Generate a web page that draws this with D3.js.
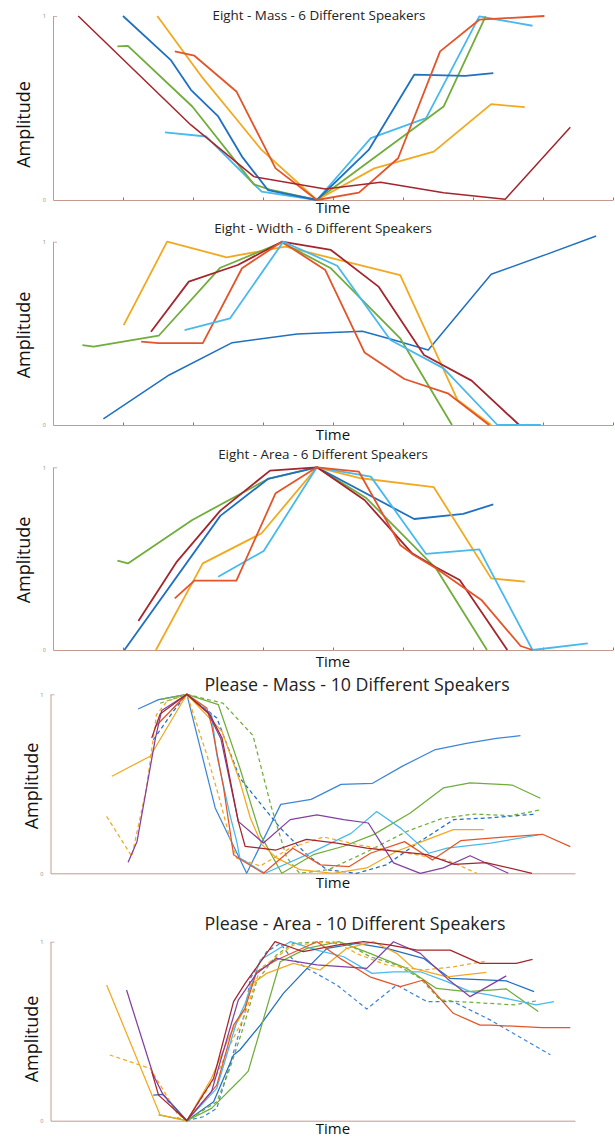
<!DOCTYPE html>
<html>
<head>
<meta charset="utf-8">
<script src="https://cdn.jsdelivr.net/npm/d3@7"></script>
<style>
  html, body { margin: 0; padding: 0; background: #fff; }
  svg { display: block; }
</style>
</head>
<body>
<svg id="chart" width="615" height="1138"></svg>
<script>
// ---------------- DATA ----------------
const titles = [
  "Eight - Mass - 6 Different Speakers",
  "Eight - Width - 6 Different Speakers",
  "Eight - Area - 6 Different Speakers",
  "Please - Mass - 10 Different Speakers",
  "Please - Area - 10 Different Speakers"
];
const xLabel = "Time";
const yLabel = "Amplitude";
const yTickValues = [0, 1];
const xTickValues = [1, 2, 3, 4, 5, 6, 7, 8];

// Eight - Mass  [time, amplitude]
const massDarkRed = [[0.36,1.0],[1.97,0.408],[2.87,0.127],[3.89,0.06],[4.68,0.096],[5.58,0.04],[6.46,0.004],[7.39,0.396]];
const massBlue    = [[1.0,1.0],[1.68,0.762],[1.97,0.599],[2.36,0.454],[2.70,0.236],[3.07,0.054],[3.77,0.0],[4.51,0.272],[5.16,0.681],[5.89,0.675],[6.29,0.69]];
const massYellow  = [[1.49,1.0],[2.14,0.662],[2.59,0.454],[2.98,0.272],[3.77,0.0],[4.59,0.172],[5.44,0.263],[6.26,0.521],[6.74,0.505]];
const massOrange  = [[1.74,0.808],[2.02,0.784],[2.62,0.59],[3.18,0.172],[3.77,0.0],[4.37,0.04],[4.93,0.227],[5.53,0.808],[6.09,0.98],[7.02,1.0]];
const massGreen   = [[0.92,0.835],[1.07,0.838],[1.99,0.508],[2.87,0.085],[3.10,0.056],[3.77,0.0],[5.58,0.508],[6.18,0.998]];
const massCyan    = [[1.60,0.368],[2.19,0.345],[2.98,0.045],[3.77,0.0],[4.54,0.336],[5.33,0.445],[6.09,0.998],[6.85,0.947]];

// Eight - Width
const widthDarkRed = [[1.40,0.509],[1.94,0.782],[2.64,0.873],[3.27,1.0],[3.97,0.955],[4.65,0.755],[5.30,0.382],[5.98,0.242],[6.66,0.0]];
const widthBlue    = [[0.72,0.033],[1.66,0.273],[2.56,0.449],[3.49,0.496],[4.42,0.511],[4.82,0.469],[5.36,0.409],[6.26,0.822],[7.05,0.931],[7.76,1.031]];
const widthYellow  = [[1.01,0.545],[1.63,1.0],[2.48,0.915],[3.32,0.973],[4.96,0.818],[5.78,0.136],[6.26,0.0]];
const widthOrange  = [[1.26,0.455],[1.51,0.447],[2.14,0.447],[2.70,0.855],[3.27,1.0],[3.89,0.845],[4.45,0.396],[5.02,0.251],[5.64,0.173],[6.23,0.0]];
const widthGreen   = [[0.42,0.436],[0.58,0.427],[1.51,0.487],[2.39,0.858],[3.27,0.996],[3.97,0.855],[4.96,0.473],[5.70,0.0]];
const widthCyan    = [[1.88,0.518],[2.53,0.582],[3.29,1.0],[4.06,0.869],[4.82,0.464],[5.58,0.309],[6.35,0.0],[6.97,0.0]];

// Eight - Area
const areaDarkRed = [[1.22,0.159],[1.77,0.484],[2.39,0.763],[3.10,0.982],[3.77,1.0],[4.45,0.821],[5.13,0.529],[5.47,0.453],[5.81,0.383],[6.49,0.0]];
const areaBlue    = [[1.02,0.0],[2.39,0.734],[3.07,0.936],[3.77,1.0],[5.16,0.717],[5.86,0.745],[6.29,0.797]];
const areaYellow  = [[1.47,0.0],[2.14,0.474],[2.98,0.639],[3.77,1.0],[4.40,0.94],[5.44,0.891],[6.26,0.392],[6.74,0.374]];
const areaOrange  = [[1.74,0.283],[2.02,0.38],[2.62,0.38],[3.18,0.858],[3.77,1.0],[4.37,0.976],[4.96,0.575],[5.13,0.526],[5.47,0.447],[6.12,0.274],[6.68,0.022],[6.85,0.0]];
const areaGreen   = [[0.92,0.489],[1.07,0.474],[1.99,0.712],[3.07,0.936],[3.77,1.0],[4.48,0.83],[5.47,0.447],[6.20,0.0]];
const areaCyan    = [[2.36,0.401],[3.01,0.542],[3.77,1.0],[4.54,0.949],[5.33,0.526],[6.09,0.551],[6.85,0.0],[7.64,0.036]];

// Please - Mass
const pmBlue       = [[1.67,0.918],[2.06,0.97],[2.60,1.0],[3.14,0.365],[3.74,0.0],[4.39,0.385],[4.97,0.413],[5.54,0.497],[6.14,0.503],[6.72,0.6],[7.32,0.689],[7.93,0.726],[8.50,0.754],[8.96,0.769]];
const pmBlueDash   = [[1.96,0.746],[2.34,0.905],[2.60,1.0],[3.17,0.868],[3.61,0.532],[4.38,0.253],[4.89,0.104],[5.27,0.02],[5.84,0.0],[6.41,0.048],[7.05,0.179],[7.69,0.30],[8.39,0.31],[9.22,0.33]];
const pmGreen      = [[2.11,0.972],[2.60,1.0],[3.20,0.942],[3.61,0.588],[4.00,0.216],[4.41,0.0],[5.01,0.104],[5.59,0.151],[6.16,0.216],[6.86,0.337],[7.49,0.477],[8.00,0.505],[8.80,0.493],[9.34,0.419]];
const pmGreenDash  = [[2.09,0.95],[2.60,1.0],[3.29,0.95],[3.86,0.77],[4.20,0.38],[4.50,0.09],[4.75,0.0],[5.30,0.02],[6.03,0.12],[6.80,0.235],[7.47,0.307],[8.08,0.331],[8.77,0.322],[9.34,0.354]];
const pmYellow     = [[1.17,0.542],[1.90,0.654],[2.60,1.0],[3.27,0.793],[3.61,0.514],[3.81,0.309],[4.03,0.16],[4.31,0.086],[4.76,0.02],[5.39,0.0],[6.03,0.03],[6.60,0.123],[7.18,0.188],[7.68,0.244],[8.26,0.244]];
const pmYellowDash = [[1.07,0.318],[1.55,0.095],[1.83,0.477],[2.02,0.886],[2.22,0.961],[2.60,1.0],[2.72,0.895],[2.98,0.663],[3.20,0.439],[3.42,0.197],[3.55,0.085],[4.00,0.041],[4.57,0.141],[5.20,0.203],[5.90,0.158],[6.67,0.119],[7.56,0.074],[8.13,0.0]];
const pmOrange     = [[2.00,0.82],[2.60,1.0],[2.98,0.923],[3.07,0.83],[3.30,0.477],[3.49,0.104],[3.68,0.067],[4.06,0.0],[4.62,0.14],[5.15,0.047],[5.69,0.037],[6.10,0.112],[6.75,0.177],[7.28,0.074],[7.82,0.182],[8.39,0.197],[9.38,0.218],[9.91,0.149]];
const pmCyan       = [[2.31,0.914],[2.60,1.0],[3.07,0.886],[3.17,0.663],[3.42,0.327],[3.55,0.179],[3.61,0.085],[4.09,0.0],[4.89,0.104],[5.73,0.223],[6.22,0.345],[6.68,0.251],[7.21,0.112],[7.56,0.141],[8.39,0.169],[9.30,0.214]];
const pmDarkRed    = [[1.93,0.756],[2.09,0.89],[2.60,1.0],[3.04,0.886],[3.27,0.756],[3.58,0.29],[3.71,0.151],[4.30,0.13],[4.88,0.19],[5.46,0.169],[6.03,0.141],[6.60,0.123],[7.18,0.104],[7.70,0.05],[8.30,0.06],[9.18,0.0]];
const pmPurple     = [[1.48,0.062],[1.65,0.178],[2.00,0.754],[2.12,0.91],[2.60,1.0],[3.00,0.9],[3.25,0.75],[3.58,0.29],[4.06,0.169],[4.57,0.30],[5.08,0.327],[5.59,0.30],[6.06,0.281],[6.54,0.058],[7.05,0.0],[7.49,0.03],[8.00,0.098],[8.73,0.0]];

// Please - Area
const paBlue       = [[1.96,0.143],[2.15,0.147],[2.60,0.0],[3.11,0.106],[3.49,0.367],[3.61,0.395],[4.00,0.534],[4.44,0.711],[4.89,0.851],[5.27,0.963],[5.84,0.991],[6.41,0.963],[7.11,0.907],[7.62,0.795],[8.39,0.786],[8.69,0.781],[9.22,0.721]];
const paBlueDash   = [[2.22,0.115],[2.60,0.0],[2.91,0.022],[3.17,0.069],[3.42,0.311],[3.71,0.609],[3.81,0.795],[4.12,0.944],[4.38,0.99],[4.60,0.907],[4.89,0.851],[5.46,0.758],[6.03,0.624],[6.60,0.758],[7.18,0.665],[7.68,0.665],[8.39,0.562],[9.53,0.368]];
const paGreen      = [[2.06,0.032],[2.60,0.0],[3.07,0.069],[3.61,0.227],[3.77,0.277],[4.38,0.888],[4.89,0.963],[5.50,1.0],[6.09,0.935],[6.79,0.851],[7.36,0.739],[7.94,0.721],[8.39,0.73],[8.69,0.736],[9.30,0.61]];
const paGreenDash  = [[2.41,0.017],[2.60,0.0],[3.17,0.106],[3.42,0.292],[3.68,0.525],[3.93,0.777],[4.31,0.926],[4.63,0.991],[5.20,1.0],[5.71,0.981],[6.09,0.916],[6.60,0.87],[7.05,0.795],[7.43,0.674],[7.81,0.665],[8.39,0.655],[8.84,0.647],[9.26,0.669]];
const paYellow     = [[1.07,0.758],[2.09,0.032],[2.60,0.0],[3.07,0.237],[3.42,0.479],[3.71,0.628],[3.81,0.758],[4.12,0.823],[4.63,0.879],[5.14,0.842],[5.65,0.963],[6.16,1.0],[6.60,0.935],[6.92,0.851],[7.56,0.804],[8.31,0.829]];
const paYellowDash = [[1.13,0.367],[1.90,0.292],[2.15,0.171],[2.41,0.041],[2.60,0.0],[3.17,0.255],[3.42,0.423],[3.68,0.572],[4.00,0.85],[4.63,0.981],[5.40,1.0],[5.90,0.926],[6.41,0.87],[7.11,0.842],[7.68,0.86],[8.31,0.892]];
const paPurple     = [[1.45,0.73],[1.96,0.255],[2.15,0.143],[2.60,0.0],[3.07,0.162],[3.58,0.674],[3.93,0.823],[4.31,0.907],[5.08,0.87],[6.03,0.851],[6.54,1.0],[7.05,0.935],[7.56,0.795],[8.00,0.693],[8.69,0.809]];
const paDarkRed    = [[1.93,0.274],[2.06,0.143],[2.41,0.05],[2.60,0.0],[3.11,0.237],[3.49,0.665],[3.71,0.767],[4.28,1.0],[4.82,0.944],[5.46,0.981],[5.97,1.0],[6.48,0.981],[6.99,0.953],[7.62,0.953],[8.19,0.879],[8.88,0.879],[9.19,0.901]];
const paCyan       = [[2.34,0.069],[2.60,0.0],[3.17,0.181],[3.55,0.553],[3.71,0.655],[4.00,0.898],[4.57,1.0],[5.08,0.953],[5.59,0.916],[6.13,0.823],[6.54,0.832],[7.05,0.832],[7.56,0.777],[8.00,0.721],[8.39,0.702],[9.26,0.647],[9.60,0.665]];
const paOrange     = [[2.41,0.05],[2.60,0.0],[3.17,0.199],[3.49,0.534],[3.71,0.628],[3.93,0.832],[4.31,0.898],[5.08,1.0],[5.52,0.907],[6.09,0.804],[6.67,0.749],[7.11,0.786],[7.68,0.60],[8.19,0.534],[8.39,0.534],[9.37,0.52],[9.91,0.52]];

// ---------------- STYLE / LAYOUT ----------------
const C = {
  darkRed: "#a3262e", blue: "#1f70c1", yellow: "#f2a91f", orange: "#e2552a",
  green: "#70ad3a", cyan: "#47b9ec", purple: "#8240a0", blue2: "#3d86d6"
};
const axisColor = "#c49a8e";

const panels = [
  { title: titles[0], tMax: 8, x0: 53, x1: 613, yTop: 16, yBot: 200, ticks: true,
    titleX: 319, titleY: 19.5, titleSize: 13.4, timeY: 213, ampX: 30, ampY: 124.5, lw: 1.8,
    series: [
      {d: massCyan, c: C.cyan}, {d: massGreen, c: C.green}, {d: massYellow, c: C.yellow},
      {d: massBlue, c: C.blue}, {d: massOrange, c: C.orange}, {d: massDarkRed, c: C.darkRed, w: 1.5}
    ]},
  { title: titles[1], tMax: 8, x0: 53, x1: 613, yTop: 241.7, yBot: 425, ticks: true,
    titleX: 323, titleY: 233, titleSize: 13.4, timeY: 440, ampX: 30, ampY: 335, lw: 1.8,
    series: [
      {d: widthBlue, c: C.blue, w: 1.5}, {d: widthYellow, c: C.yellow}, {d: widthGreen, c: C.green},
      {d: widthDarkRed, c: C.darkRed}, {d: widthOrange, c: C.orange}, {d: widthCyan, c: C.cyan}
    ]},
  { title: titles[2], tMax: 8, x0: 53, x1: 613, yTop: 467.3, yBot: 650, ticks: true,
    titleX: 323, titleY: 459, titleSize: 13.4, timeY: 667, ampX: 30, ampY: 560, lw: 1.8,
    series: [
      {d: areaGreen, c: C.green}, {d: areaBlue, c: C.blue}, {d: areaYellow, c: C.yellow},
      {d: areaCyan, c: C.cyan}, {d: areaDarkRed, c: C.darkRed}, {d: areaOrange, c: C.orange}
    ]},
  { title: titles[3], tMax: 10, x0: 50.5, x1: 575, yTop: 694.3, yBot: 873.3, ticks: false,
    titleX: 357, titleY: 691, titleSize: 17.8, timeY: 888, ampX: 38, ampY: 786, lw: 1.25,
    series: [
      {d: pmBlue, c: C.blue2}, {d: pmBlueDash, c: C.blue, dash: true},
      {d: pmGreen, c: C.green}, {d: pmGreenDash, c: C.green, dash: true},
      {d: pmYellow, c: C.yellow}, {d: pmYellowDash, c: C.yellow, dash: true},
      {d: pmCyan, c: C.cyan}, {d: pmOrange, c: C.orange},
      {d: pmPurple, c: C.purple}, {d: pmDarkRed, c: C.darkRed}
    ]},
  { title: titles[4], tMax: 10, x0: 50.5, x1: 575, yTop: 941.7, yBot: 1120.7, ticks: false,
    titleX: 355, titleY: 930, titleSize: 17.8, timeY: 1134, ampX: 38, ampY: 1039, lw: 1.25,
    series: [
      {d: paBlueDash, c: C.blue2, dash: true}, {d: paBlue, c: C.blue},
      {d: paGreen, c: C.green}, {d: paGreenDash, c: C.green, dash: true},
      {d: paYellow, c: C.yellow}, {d: paYellowDash, c: C.yellow, dash: true},
      {d: paCyan, c: C.cyan}, {d: paOrange, c: C.orange},
      {d: paPurple, c: C.purple}, {d: paDarkRed, c: C.darkRed}
    ]}
];

// ---------------- DRAW ----------------
const svg = d3.select("#chart");

panels.forEach(p => {
  const g = svg.append("g");
  const x = d3.scaleLinear().domain([0, p.tMax]).range([p.x0, p.x1]);
  const y = d3.scaleLinear().domain([0, 1]).range([p.yBot, p.yTop]);

  // x axis
  const xa = g.append("g").attr("transform", `translate(0,${p.yBot})`)
    .call(d3.axisBottom(x).tickValues(p.ticks ? xTickValues : []).tickSize(-2.5).tickSizeOuter(0).tickFormat(""));
  xa.select(".domain").attr("stroke", axisColor).attr("stroke-width", 1);
  xa.selectAll(".tick line").attr("stroke", "#555").attr("stroke-width", 0.8);

  // y axis
  const ya = g.append("g").attr("transform", `translate(${p.x0},0)`)
    .call(d3.axisLeft(y).tickValues(yTickValues).tickSize(-4).tickSizeOuter(0).tickPadding(7).tickFormat(d3.format("d")));
  ya.select(".domain").attr("stroke", axisColor).attr("stroke-width", 1);
  ya.selectAll(".tick line").attr("stroke", axisColor).attr("stroke-width", 0.8);
  ya.selectAll(".tick text").attr("fill", "#888").attr("font-size", 5.5).attr("font-family", "Open Sans, sans-serif");
  ya.selectAll(".tick").filter(d => d === 0).select("line").remove();

  // lines
  const line = d3.line().x(d => x(d[0])).y(d => y(d[1]));
  p.series.forEach(s => {
    g.append("path")
      .attr("d", line(s.d))
      .attr("fill", "none")
      .attr("stroke", s.c)
      .attr("stroke-width", s.w || p.lw)
      .attr("stroke-linejoin", "round")
      .attr("stroke-dasharray", s.dash ? "4,3" : null);
  });

  // title
  g.append("text").attr("x", p.titleX).attr("y", p.titleY)
    .attr("text-anchor", "middle").attr("font-family", "Open Sans, sans-serif")
    .attr("font-size", p.titleSize).attr("fill", "#222").text(p.title);

  // x label
  g.append("text").attr("x", 333).attr("y", p.timeY)
    .attr("text-anchor", "middle").attr("font-family", "Open Sans, sans-serif")
    .attr("font-size", 15).attr("fill", "#111").text(xLabel);

  // y label
  g.append("text").attr("transform", `translate(${p.ampX},${p.ampY}) rotate(-90)`)
    .attr("text-anchor", "middle").attr("font-family", "Open Sans, sans-serif")
    .attr("font-size", 18).attr("fill", "#111").text(yLabel);
});
</script>
</body>
</html>
